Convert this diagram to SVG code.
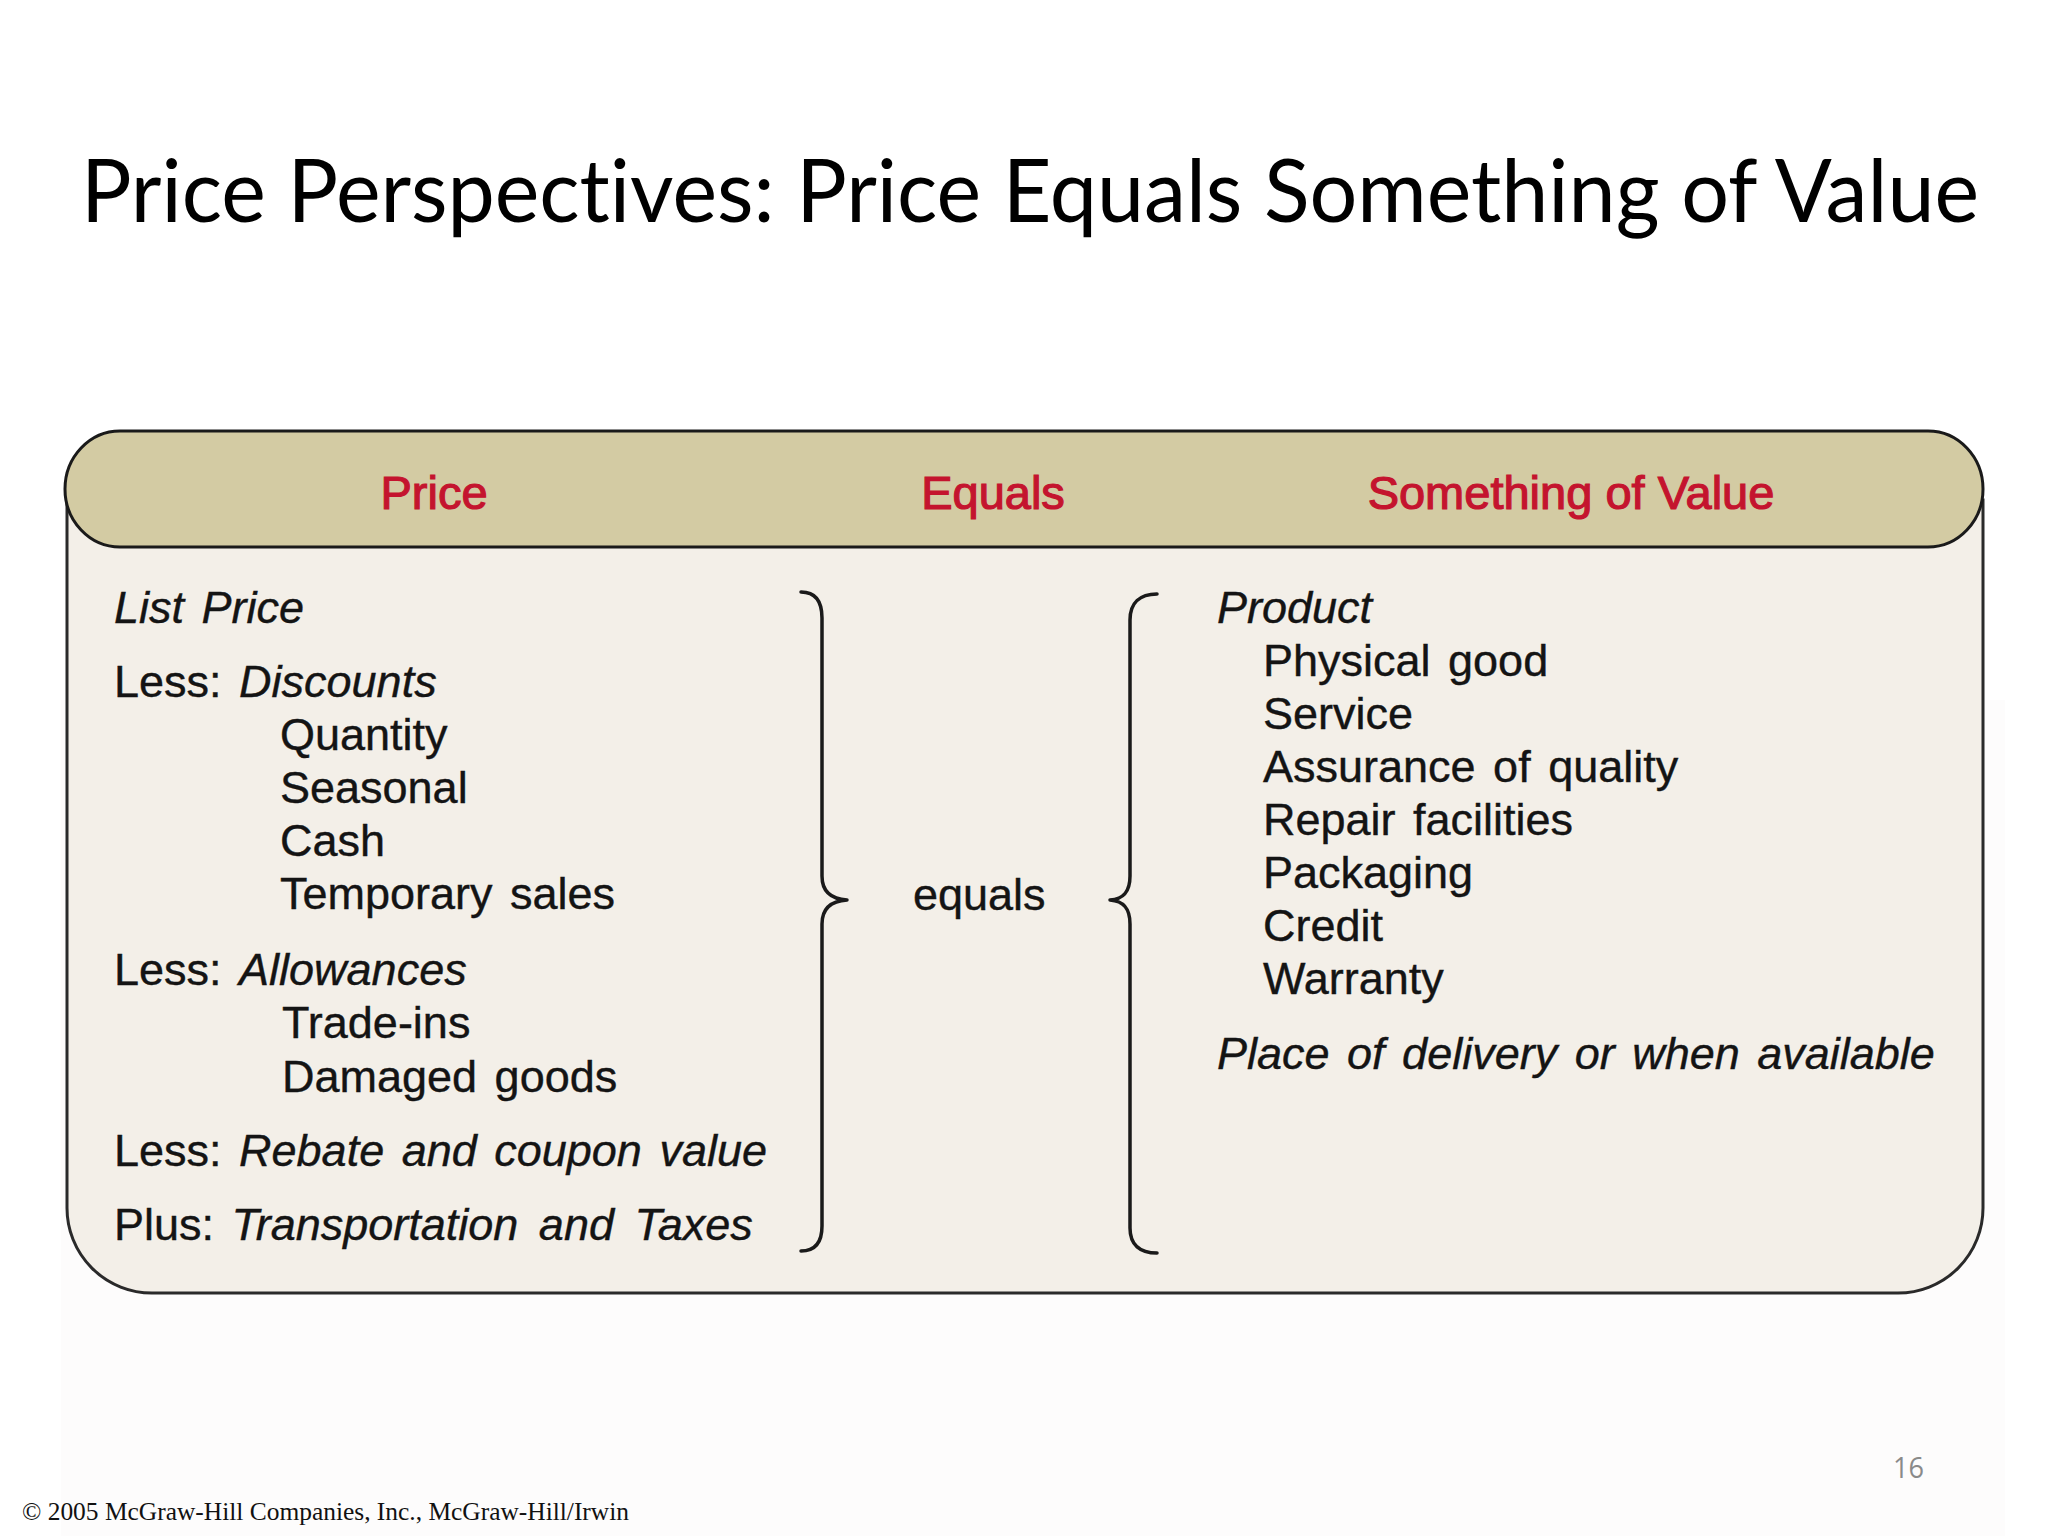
<svg xmlns="http://www.w3.org/2000/svg" width="2048" height="1536" viewBox="0 0 2048 1536">
<style>
.t{font-family:"Liberation Sans",Arial,sans-serif;font-size:45px;fill:#141414;stroke:#141414;stroke-width:0.4px;word-spacing:5px}
.i{font-style:italic}
.h{font-family:"Liberation Sans",Arial,sans-serif;font-size:47px;fill:#c4142e;stroke:#c4142e;stroke-width:1.2px;text-anchor:middle}
.br{fill:none;stroke:#1a1a1a;stroke-width:3.5;stroke-linecap:round;stroke-linejoin:round}
</style>
<rect width="2048" height="1536" fill="#ffffff"/>
<rect x="61" y="700" width="1944" height="836" fill="#fdfcfc"/>
<g id="title" transform="translate(81,222) scale(0.86,1)">
<text x="0" y="0" font-family="Lato,'Open Sans',sans-serif" font-size="88" fill="#000" style="font-variant-ligatures:none" textLength="2207" lengthAdjust="spacingAndGlyphs">Price Perspectives: Price Equals Something of Value</text>
</g>
<g id="panel">
<path d="M67,500 L67,1208 A85,85 0 0 0 152,1293 L1898,1293 A85,85 0 0 0 1983,1208 L1983,500 Z" fill="#f3efe8" stroke="#2a2a2a" stroke-width="3"/>
</g>
<g id="header">
<rect x="65" y="431" width="1918" height="116" rx="55" ry="58" fill="#d3cba3" stroke="#1a1a1a" stroke-width="3"/>
<text class="h" x="434" y="509">Price</text>
<text class="h" x="993" y="509">Equals</text>
<text class="h" x="1571" y="509">Something of Value</text>
</g>
<g id="price-column">
<text class="t i" x="114" y="623">List Price</text>
<text class="t" x="114" y="697">Less: <tspan class="i">Discounts</tspan></text>
<text class="t" x="280" y="750">Quantity</text>
<text class="t" x="280" y="803">Seasonal</text>
<text class="t" x="280" y="856">Cash</text>
<text class="t" x="280" y="909">Temporary sales</text>
<text class="t" x="114" y="985">Less: <tspan class="i">Allowances</tspan></text>
<text class="t" x="282" y="1038">Trade-ins</text>
<text class="t" x="282" y="1092">Damaged goods</text>
<text class="t" x="114" y="1166">Less: <tspan class="i">Rebate and coupon value</tspan></text>
<text class="t" x="114" y="1240">Plus: <tspan class="i" style="word-spacing:8px">Transportation and Taxes</tspan></text>
</g>
<g id="equals">
<text class="t" x="913" y="910">equals</text>
</g>
<g id="value-column">
<text class="t i" x="1217" y="623">Product</text>
<text class="t" x="1263" y="676">Physical good</text>
<text class="t" x="1263" y="729">Service</text>
<text class="t" x="1263" y="782">Assurance of quality</text>
<text class="t" x="1263" y="835">Repair facilities</text>
<text class="t" x="1263" y="888">Packaging</text>
<text class="t" x="1263" y="941">Credit</text>
<text class="t" x="1263" y="994">Warranty</text>
<text class="t i" x="1217" y="1069">Place of delivery or when available</text>
</g>
<g id="connectors">
<path class="br" d="M801,592 C815,592 822,601 822,618 L822,876 C822,891 831,899 847,900 C831,901 822,909 822,924 L822,1226 C822,1243 815,1251 801,1251"/>
<path class="br" d="M1157,594 C1140,594 1130,603 1130,620 L1130,876 C1130,891 1124,899 1110,900 C1124,901 1130,909 1130,924 L1130,1228 C1130,1245 1140,1253 1157,1253"/>
</g>
<g id="footer">
<text x="22" y="1520" font-family="'Liberation Serif','Times New Roman',serif" font-size="25" fill="#111" textLength="607" lengthAdjust="spacingAndGlyphs">© 2005 McGraw-Hill Companies, Inc., McGraw-Hill/Irwin</text>
<text x="1893" y="1478" font-family="'Open Sans',sans-serif" font-size="30" fill="#8a8a8a" textLength="31" lengthAdjust="spacingAndGlyphs">16</text>
</g>
</svg>
